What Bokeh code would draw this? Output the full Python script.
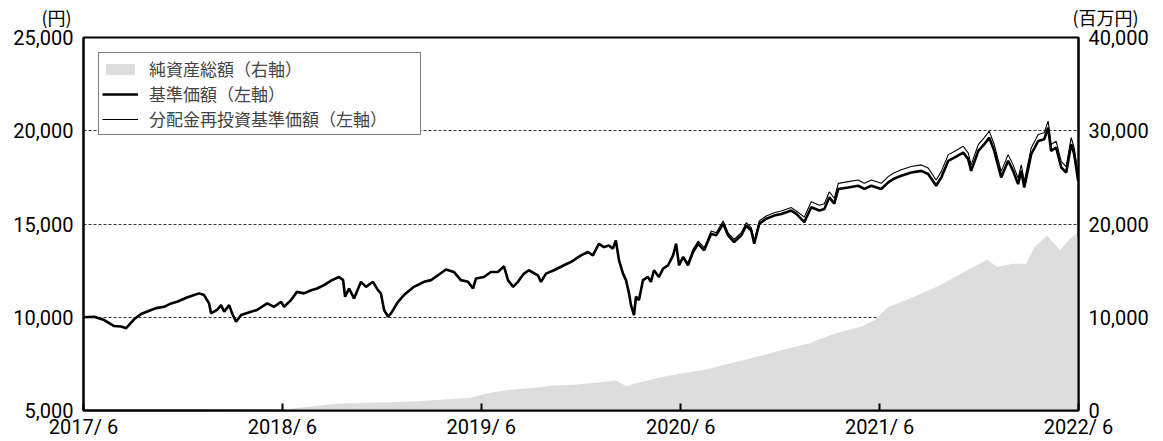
import numpy as np
import pandas as pd
from bokeh.plotting import figure
from bokeh.models import (Range1d, LinearAxis, DatetimeAxis, FixedTicker, NumeralTickFormatter,
                          CustomJSTickFormatter, Legend, LegendItem)
from bokeh.embed import file_html
from bokeh.resources import INLINE

FONT = "Noto Sans CJK JP"
TICK_FONT = "Roboto"

# ---- data (time as decimal years) ----
price_t = [
    2017.414, 2017.467, 2017.518, 2017.568, 2017.603, 2017.628, 2017.643, 2017.668, 2017.703, 2017.754,
    2017.779, 2017.819, 2017.854, 2017.884, 2017.934, 2017.970, 2017.995, 2018.020, 2018.045, 2018.055,
    2018.085, 2018.105, 2018.121, 2018.146, 2018.161, 2018.181, 2018.206, 2018.256, 2018.286, 2018.337,
    2018.372, 2018.407, 2018.422, 2018.457, 2018.487, 2018.522, 2018.558, 2018.588, 2018.623, 2018.663,
    2018.698, 2018.719, 2018.729, 2018.749, 2018.774, 2018.809, 2018.834, 2018.869, 2018.894, 2018.909,
    2018.925, 2018.945, 2018.960, 2018.995, 2019.025, 2019.075, 2019.126, 2019.161, 2019.196, 2019.236,
    2019.276, 2019.311, 2019.347, 2019.372, 2019.387, 2019.427, 2019.462, 2019.497, 2019.528, 2019.548,
    2019.573, 2019.598, 2019.628, 2019.653, 2019.698, 2019.714, 2019.739, 2019.779, 2019.829, 2019.864,
    2019.915, 2019.950, 2019.975, 2020.005, 2020.030, 2020.055, 2020.075, 2020.090, 2020.106, 2020.126,
    2020.141, 2020.156, 2020.166, 2020.181, 2020.191, 2020.206, 2020.226, 2020.251, 2020.266, 2020.281,
    2020.306, 2020.327, 2020.352, 2020.377, 2020.392, 2020.407, 2020.427, 2020.452, 2020.477, 2020.503,
    2020.533, 2020.568, 2020.593, 2020.628, 2020.653, 2020.683, 2020.719, 2020.744, 2020.769, 2020.784,
    2020.809, 2020.844, 2020.884, 2020.919, 2020.970, 2020.995, 2021.035, 2021.070, 2021.111, 2021.136,
    2021.161, 2021.186, 2021.206, 2021.256, 2021.306, 2021.337, 2021.372, 2021.422, 2021.457, 2021.482,
    2021.523, 2021.573, 2021.623, 2021.658, 2021.698, 2021.724, 2021.759, 2021.789, 2021.834, 2021.859,
    2021.874, 2021.910, 2021.940, 2021.965, 2021.990, 2022.025, 2022.060, 2022.085, 2022.110, 2022.126,
    2022.141, 2022.176, 2022.211, 2022.241, 2022.261, 2022.276, 2022.301, 2022.327, 2022.352, 2022.377,
    2022.392, 2022.412,
]

# 基準価額 (left axis, yen)
nav = [
    10000, 10030, 9850, 9530, 9500, 9410, 9590, 9890, 10170, 10390,
    10490, 10560, 10740, 10830, 11060, 11190, 11280, 11190, 10740, 10210,
    10390, 10650, 10300, 10650, 10210, 9760, 10120, 10300, 10390, 10740,
    10560, 10830, 10560, 10920, 11360, 11280, 11450, 11540, 11720, 11990,
    12160, 11990, 11100, 11540, 11010, 11900, 11630, 11900, 11450, 11280,
    10390, 10030, 10210, 10830, 11190, 11630, 11900, 11990, 12250, 12560,
    12430, 11990, 11900, 11540, 12080, 12160, 12430, 12430, 12730, 11990,
    11630, 11900, 12340, 12520, 12250, 11900, 12340, 12520, 12790, 12960,
    13320, 13500, 13320, 13940, 13760, 13850, 13680, 14120, 13050, 12340,
    11990, 11280, 10650, 10120, 11100, 10920, 11990, 12160, 11900, 12520,
    12160, 12610, 12790, 13320, 13940, 12790, 13230, 12790, 13500, 13940,
    13590, 14480, 14390, 15010, 14390, 14030, 14390, 14920, 14650, 13940,
    15010, 15280, 15450, 15540, 15720, 15540, 15100, 15900, 15720, 15810,
    16430, 16090, 16880, 16960, 17050, 16880, 17050, 16880, 17230, 17410,
    17590, 17760, 17850, 17680, 17050, 17500, 18390, 18560, 18830, 18480,
    17850, 18920, 19280, 19630, 18920, 17500, 18390, 17850, 17140, 17850,
    16960, 18740, 19450, 19540, 20160, 18920, 19100, 18030, 17760, 19280,
    18740, 17320,
]

# 分配金再投資基準価額 (left axis, yen)
nav_reinvested = [
    10000, 10030, 9850, 9530, 9500, 9410, 9590, 9890, 10170, 10390,
    10490, 10560, 10740, 10830, 11060, 11190, 11280, 11190, 10740, 10210,
    10390, 10650, 10300, 10650, 10210, 9760, 10120, 10300, 10390, 10740,
    10560, 10830, 10560, 10920, 11360, 11280, 11450, 11540, 11720, 11990,
    12160, 11990, 11100, 11540, 11010, 11900, 11630, 11900, 11450, 11280,
    10390, 10030, 10210, 10830, 11190, 11630, 11900, 11990, 12250, 12560,
    12430, 11990, 11900, 11540, 12080, 12160, 12430, 12430, 12730, 11990,
    11630, 11900, 12340, 12520, 12250, 11900, 12340, 12520, 12790, 12960,
    13320, 13500, 13320, 13940, 13760, 13850, 13680, 14120, 13050, 12340,
    11990, 11280, 10650, 10120, 11100, 10920, 11990, 12160, 11900, 12520,
    12160, 12610, 12790, 13320, 13940, 12790, 13230, 12920, 13640, 14080,
    13730, 14620, 14530, 15160, 14530, 14170, 14530, 15070, 14800, 14080,
    15160, 15430, 15600, 15700, 15880, 15700, 15370, 16190, 16000, 16090,
    16730, 16380, 17180, 17270, 17360, 17180, 17360, 17180, 17540, 17720,
    17910, 18080, 18170, 18000, 17360, 17820, 18720, 18890, 19170, 18810,
    18170, 19260, 19630, 19980, 19260, 17820, 18720, 18170, 17450, 18170,
    17270, 19080, 19800, 19890, 20520, 19260, 19440, 18350, 18080, 19630,
    19080, 17630,
]

# 純資産総額 (right axis, million yen)
assets_t = [
    2017.414, 2017.750, 2018.000, 2018.250, 2018.412, 2018.568, 2018.698, 2018.962, 2019.094, 2019.225,
    2019.357, 2019.435, 2019.538, 2019.671, 2019.776, 2019.881, 2020.012, 2020.090, 2020.143, 2020.196,
    2020.301, 2020.407, 2020.538, 2020.668, 2020.774, 2020.930, 2021.060, 2021.193, 2021.324, 2021.390,
    2021.455, 2021.587, 2021.718, 2021.824, 2021.955, 2022.005, 2022.085, 2022.151, 2022.191, 2022.256,
    2022.322, 2022.362, 2022.402, 2022.413,
]
net_assets = [
    30, 50, 60, 80, 100, 460, 750, 890, 1000, 1170,
    1350, 1800, 2170, 2420, 2670, 2770, 3020, 3230, 2600, 2950,
    3490, 3950, 4370, 5080, 5620, 6510, 7220, 8290, 9000, 9710,
    11060, 12190, 13440, 14690, 16180, 15390, 15750, 15750, 17520, 18770,
    17170, 18240, 18950, 18400,
]

left_ticks = [5000, 10000, 15000, 20000, 25000]
right_ticks = [0, 10000, 20000, 30000, 40000]
grid_ticks = [10000, 15000, 20000]
tick_years = [2017, 2018, 2019, 2020, 2021, 2022]

legend_labels = ["純資産総額（右軸）", "基準価額（左軸）", "分配金再投資基準価額（左軸）"]
unit_left = "(円)"
unit_right = "(百万円)"


def to_dt(ts):
    out = []
    for t in ts:
        y = int(t)
        start = pd.Timestamp(year=y, month=1, day=1)
        ndays = (pd.Timestamp(year=y + 1, month=1, day=1) - start).days
        out.append(start + pd.Timedelta(days=(t - y) * ndays))
    return out


px = to_dt(price_t)
ax = to_dt(assets_t)

x0 = pd.Timestamp("2017-06-01")
x1 = pd.Timestamp("2022-06-01")

p = figure(width=1163, height=441, x_axis_type="datetime",
           x_range=Range1d(x0, x1), y_range=Range1d(5000, 25000),
           output_backend="svg", toolbar_location=None,
           min_border_left=83, min_border_right=85, min_border_top=36, min_border_bottom=30)
p.extra_y_ranges = {"right": Range1d(0, 40000)}
p.background_fill_color = "white"
p.border_fill_color = "white"
p.outline_line_color = "black"
p.outline_line_width = 2

area = p.varea(x=ax, y1=0, y2=net_assets, y_range_name="right", fill_color="#dcdddc")
l1 = p.line(px, nav, line_color="black", line_width=2.6)
l2 = p.line(px, nav_reinvested, line_color="black", line_width=1.1)

# axes
p.yaxis.ticker = FixedTicker(ticks=left_ticks)
p.yaxis.formatter = NumeralTickFormatter(format="0,0")
raxis = LinearAxis(y_range_name="right", ticker=FixedTicker(ticks=right_ticks),
                   formatter=NumeralTickFormatter(format="0,0"))
p.add_layout(raxis, "right")

tick_ms = [pd.Timestamp(year=y, month=6, day=1).value / 1e6 for y in tick_years]
p.xaxis.ticker = FixedTicker(ticks=tick_ms)
p.xaxis.formatter = CustomJSTickFormatter(
    code="const d = new Date(tick); return d.getUTCFullYear() + '/ ' + (d.getUTCMonth() + 1);")

for a in [p.xaxis[0], p.yaxis[0], raxis]:
    a.axis_line_color = "black"
    a.axis_line_width = 2
    a.major_tick_line_color = "black"
    a.major_tick_line_width = 2
    a.major_tick_in = 7
    a.major_tick_out = 0
    a.minor_tick_line_color = None
    a.major_label_text_font = TICK_FONT
    a.major_label_text_font_size = "20px"
    a.major_label_text_color = "black"
    a.major_label_standoff = 10
p.xaxis.major_label_standoff = 4
p.yaxis.major_tick_in = 0

# unit captions above the frame, carried by an axis placed "above"
x0_ms = x0.value / 1e6
x1_ms = x1.value / 1e6
unit_axis = DatetimeAxis(ticker=FixedTicker(ticks=[x0_ms, x1_ms]),
                         formatter=CustomJSTickFormatter(
                             args=dict(left=unit_left + "\u3000\u3000\u3000",
                                       right="\u3000\u3000\u3000" + unit_right),
                             code="return index == 0 ? left : right;"))
unit_axis.axis_line_color = None
unit_axis.major_tick_line_color = None
unit_axis.minor_tick_line_color = None
unit_axis.major_tick_in = 0
unit_axis.major_tick_out = 0
unit_axis.major_label_standoff = 8
unit_axis.major_label_text_font = FONT
unit_axis.major_label_text_font_size = "18px"
unit_axis.major_label_text_color = "black"
p.add_layout(unit_axis, "above")

p.xgrid.visible = False
p.ygrid.ticker = FixedTicker(ticks=grid_ticks)
p.ygrid.grid_line_color = "#333333"
p.ygrid.grid_line_dash = "3 2"
p.ygrid.grid_line_width = 1

legend = Legend(items=[LegendItem(label=legend_labels[0], renderers=[area]),
                       LegendItem(label=legend_labels[1], renderers=[l1]),
                       LegendItem(label=legend_labels[2], renderers=[l2])],
                location="top_left", margin=15, padding=3, spacing=0,
                label_height=22, glyph_height=14, glyph_width=36, label_standoff=11,
                label_width=268,
                label_text_font=FONT, label_text_font_size="17px",
                border_line_color="black", border_line_width=1,
                background_fill_color="white", background_fill_alpha=1.0)
p.add_layout(legend)

open("out.html", "w").write(file_html(p, INLINE))
